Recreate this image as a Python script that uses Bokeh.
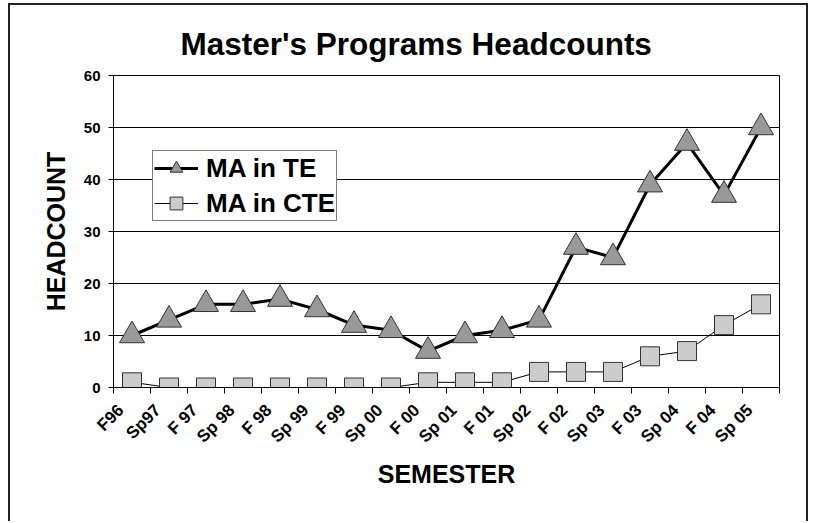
import numpy as np
from bokeh.plotting import figure
from bokeh.models import Range1d, FixedTicker, Legend, LegendItem
from bokeh.embed import file_html
from bokeh.resources import INLINE

semesters = ["F96", "Sp97", "F 97", "Sp 98", "F 98", "Sp 99", "F 99", "Sp 00", "F 00",
             "Sp 01", "F 01", "Sp 02", "F 02", "Sp 03", "F 03", "Sp 04", "F 04", "Sp 05"]
ma_te = [10, 13, 16, 16, 17, 15, 12, 11, 7, 10, 11, 13, 27, 25, 39, 47, 37, 50]
ma_cte = [1, 0, 0, 0, 0, 0, 0, 0, 1, 1, 1, 3, 3, 3, 6, 7, 12, 16]
y_ticks = [0, 10, 20, 30, 40, 50, 60]

FONT = "Liberation Sans"
n = len(semesters)
x = [i + 0.5 for i in range(n)]

p = figure(width=800, height=518, output_backend="svg", toolbar_location=None,
           x_range=Range1d(0, n), y_range=Range1d(y_ticks[0], y_ticks[-1]),
           min_border_left=103, min_border_right=31, min_border_top=70,
           min_border_bottom=136)
p.styles = {"margin-left": "8px", "margin-top": "3px",
            "border-left": "2px solid #222", "border-top": "2px solid #222",
            "border-right": "2px solid #222"}

p.title.text = "Master's Programs Headcounts"
p.title.align = "left"
p.title.offset = 67
p.title.text_font = FONT
p.title.text_font_size = "31.5px"
p.title.text_font_style = "bold"
p.title.text_color = "black"
p.title.standoff = 28

p.background_fill_color = "white"
p.border_fill_color = "white"
p.outline_line_color = "black"
p.outline_line_width = 1

p.xgrid.visible = False
p.ygrid.ticker = FixedTicker(ticks=y_ticks[1:-1])
p.ygrid.grid_line_color = "black"
p.ygrid.grid_line_width = 1

# x axis: labels near category centres, ticks on category boundaries
label_pos = [i + 0.2 for i in range(n)]
p.xaxis.ticker = FixedTicker(ticks=label_pos, minor_ticks=list(range(n + 1)))
p.xaxis.major_label_overrides = {pos: lab for pos, lab in zip(label_pos, semesters)}
p.xaxis.major_label_orientation = np.pi / 4
p.xaxis.major_tick_line_color = None
p.xaxis.major_tick_out = 6
p.xaxis.major_tick_in = 0
p.xaxis.minor_tick_line_color = "black"
p.xaxis.minor_tick_out = 6
p.xaxis.minor_tick_in = 0
p.xaxis.major_label_standoff = 14
p.xaxis.major_label_text_font = FONT
p.xaxis.major_label_text_font_style = "bold"
p.xaxis.major_label_text_font_size = "17px"
p.xaxis.major_label_text_color = "black"
p.xaxis.axis_label = "SEMESTER"
p.xaxis.axis_label_text_font = FONT
p.xaxis.axis_label_text_font_style = "bold"
p.xaxis.axis_label_text_font_size = "25px"
p.xaxis.axis_label_text_color = "black"
p.xaxis.axis_label_standoff = 4
p.xaxis.axis_line_color = "black"

p.yaxis.ticker = FixedTicker(ticks=y_ticks)
p.yaxis.minor_tick_line_color = None
p.yaxis.major_tick_out = 5
p.yaxis.major_tick_in = 0
p.yaxis.major_tick_line_color = "black"
p.yaxis.major_label_standoff = 8
p.yaxis.major_label_text_font = FONT
p.yaxis.major_label_text_font_style = "bold"
p.yaxis.major_label_text_font_size = "15px"
p.yaxis.major_label_text_color = "black"
p.yaxis.axis_label = "HEADCOUNT"
p.yaxis.axis_label_text_font = FONT
p.yaxis.axis_label_text_font_style = "bold"
p.yaxis.axis_label_text_font_size = "25px"
p.yaxis.axis_label_text_color = "black"
p.yaxis.axis_label_standoff = 11
p.yaxis.axis_line_color = "black"

cte_line = p.line(x, ma_cte, line_color="black", line_width=1)
te_line = p.line(x, ma_te, line_color="black", line_width=3)
te_m = p.scatter(x, ma_te, marker="triangle", size=25, fill_color="#999999",
                 line_color="#333333", line_width=1)
cte_m = p.scatter(x, ma_cte, marker="square", size=19, fill_color="#cccccc",
                  line_color="#333333", line_width=1)

legend = Legend(items=[LegendItem(label="MA in TE", renderers=[te_line, te_m]),
                       LegendItem(label="MA in CTE", renderers=[cte_line, cte_m])],
                location=(39, 166))
legend.label_text_font = FONT
legend.label_text_font_style = "bold"
legend.label_text_font_size = "26px"
legend.label_text_color = "black"
legend.glyph_width = 44
legend.glyph_height = 32
legend.label_height = 32
legend.label_standoff = 8
legend.padding = 1
legend.spacing = 3
legend.margin = 0
legend.border_line_color = "black"
legend.border_line_width = 1
legend.background_fill_color = "white"
legend.background_fill_alpha = 1
p.add_layout(legend)

open("out.html", "w").write(file_html(p, INLINE))
